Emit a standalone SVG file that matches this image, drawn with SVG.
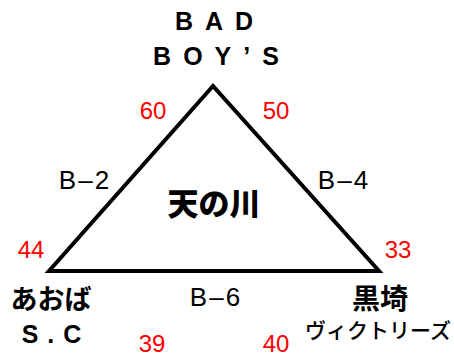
<svg xmlns="http://www.w3.org/2000/svg" width="454" height="360" viewBox="0 0 454 360">
<style>
.t{font-family:"Liberation Sans","Noto Sans CJK JP",sans-serif;fill:#000}
.j{font-family:"Noto Sans CJK JP",sans-serif;fill:#000}
.r{font-family:"Liberation Sans",sans-serif;fill:#ff0000;font-size:24px}
.e{font-family:"Liberation Sans",sans-serif;fill:#000;font-size:26px;letter-spacing:2px}
.b{font-weight:bold}
</style>
<rect width="454" height="360" fill="#fff"/>
<g id="connectors">
<polygon points="213,86 49,271 379,271" fill="none" stroke="#000" stroke-width="4" stroke-linejoin="miter"/>
</g>
<g id="node-top">
<text class="t b" x="220" y="30" font-size="25" text-anchor="middle" letter-spacing="12">BAD</text>
<text class="t b" x="222" y="65" font-size="25" text-anchor="middle" letter-spacing="12">BOY’S</text>
</g>
<g id="node-left">
<text class="j b" x="51" y="309" font-size="27" text-anchor="middle">あおば</text>
<text class="t b" x="56" y="343" font-size="25" text-anchor="middle" letter-spacing="9">S.C</text>
</g>
<g id="node-right">
<text class="j b" x="380" y="309" font-size="28" text-anchor="middle">黒埼</text>
<text class="j" x="378" y="338" font-size="21" font-weight="500" text-anchor="middle">ヴィクトリーズ</text>
</g>
<g id="node-center">
<text class="j" x="214" y="215" font-size="31" font-weight="900" text-anchor="middle">天の川</text>
</g>
<g id="labels">
<text class="e" x="85" y="189" text-anchor="middle">B–2</text>
<text class="e" x="344" y="189" text-anchor="middle">B–4</text>
<text class="e" x="216" y="306" text-anchor="middle">B–6</text>
<text class="r" x="153" y="119" text-anchor="middle">60</text>
<text class="r" x="276" y="119" text-anchor="middle">50</text>
<text class="r" x="31" y="258" text-anchor="middle">44</text>
<text class="r" x="398" y="258" text-anchor="middle">33</text>
<text class="r" x="152" y="352" text-anchor="middle">39</text>
<text class="r" x="276" y="352" text-anchor="middle">40</text>
</g>
</svg>
